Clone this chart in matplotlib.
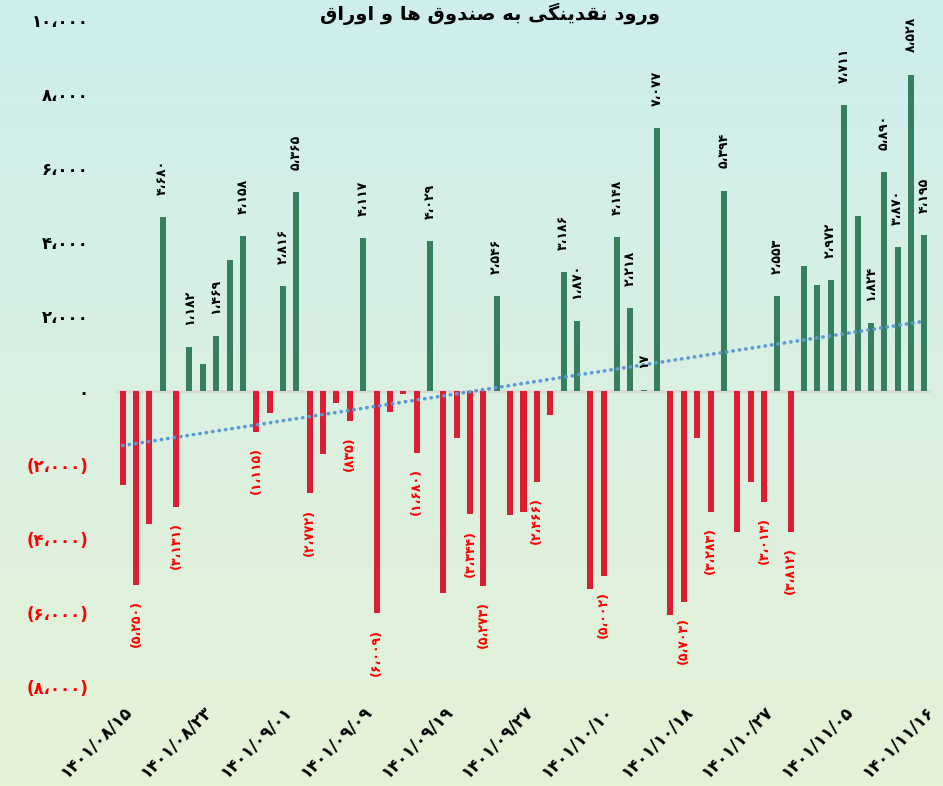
import numpy as np
import matplotlib
matplotlib.use("Agg")
import matplotlib.pyplot as plt
from matplotlib.colors import LinearSegmentedColormap

plt.rcParams['font.family'] = ['DejaVu Sans']

title = "ورود نقدینگی به صندوق ها و اوراق"

dates = ["۱۴۰۱/۰۸/۱۵", "۱۴۰۱/۰۸/۲۳", "۱۴۰۱/۰۹/۰۱", "۱۴۰۱/۰۹/۰۹", "۱۴۰۱/۰۹/۱۹",
         "۱۴۰۱/۰۹/۲۷", "۱۴۰۱/۱۰/۱۰", "۱۴۰۱/۱۰/۱۸", "۱۴۰۱/۱۰/۲۷", "۱۴۰۱/۱۱/۰۵",
         "۱۴۰۱/۱۱/۱۶"]

# net inflow per trading day (million)
values = [-2540, -5250, -3600, 4680, -3131, 1182, 720, 1469, 3510, 4158,
          -1115, -615, 2816, 5365, -2772, -1725, -345, -835, 4117, -6009,
          -585, -90, -1680, 4029, -5460, -1290, -3344, -5273, 2546, -3370,
          -3270, -2466, -670, 3186, 1870, -5350, -5002, 4148, 2218, 17,
          7077, -6050, -5703, -1290, -3283, 5394, -3810, -2460, -3013, 2553,
          -3812, 3370, 2845, 2972, 7711, 4700, 1824, 5890, 3870, 8528, 4195]

# bars that carry a data label
labeled = [1, 3, 4, 5, 7, 9, 10, 12, 13, 14, 17, 18, 19, 22, 23, 26, 27, 28, 31,
           33, 34, 36, 37, 38, 39, 40, 42, 44, 45, 48, 49, 50, 53, 54, 56, 57,
           58, 59, 60]

yticks = [10000, 8000, 6000, 4000, 2000, 0, -2000, -4000, -6000, -8000]

# --- tiny arabic shaper (matplotlib has no complex text layout) ---
FORMS = {
    'و': ('\uFEED', '\uFEEE', None, None),
    'ر': ('\uFEAD', '\uFEAE', None, None),
    'د': ('\uFEA9', '\uFEAA', None, None),
    'ا': ('\uFE8D', '\uFE8E', None, None),
    'ن': ('\uFEE5', '\uFEE6', '\uFEE7', '\uFEE8'),
    'ق': ('\uFED5', '\uFED6', '\uFED7', '\uFED8'),
    'ی': ('\uFBFC', '\uFBFD', '\uFBFE', '\uFBFF'),
    'گ': ('\uFB92', '\uFB93', '\uFB94', '\uFB95'),
    'ب': ('\uFE8F', '\uFE90', '\uFE91', '\uFE92'),
    'ه': ('\uFEE9', '\uFEEA', '\uFEEB', '\uFEEC'),
    'ص': ('\uFEB9', '\uFEBA', '\uFEBB', '\uFEBC'),
}


def shape(s):
    out = []
    for i, c in enumerate(s):
        if c not in FORMS:
            out.append(c)
            continue
        prev = s[i - 1] if i > 0 else None
        nxt = s[i + 1] if i < len(s) - 1 else None
        jp = prev in FORMS and FORMS[prev][2] is not None
        jn = FORMS[c][2] is not None and nxt in FORMS
        iso, fin, ini, med = FORMS[c]
        if jp and jn:
            out.append(med)
        elif jp:
            out.append(fin)
        elif jn:
            out.append(ini)
        else:
            out.append(iso)
    return ''.join(out[::-1])


FA = str.maketrans('0123456789,', '۰۱۲۳۴۵۶۷۸۹،')


def fa_num(v):
    s = f"{abs(v):,}".translate(FA)
    return f"({s})" if v < 0 else s


W, H = 943, 786
fig = plt.figure(figsize=(W / 100, H / 100), dpi=100)

# background gradient
bg = fig.add_axes([0, 0, 1, 1], zorder=-10)
cmap = LinearSegmentedColormap.from_list('bg', ['#cdeeed', '#e6f2d6'])
bg.imshow(np.linspace(0, 1, 256).reshape(-1, 1), aspect='auto', cmap=cmap,
          extent=[0, 1, 0, 1])
bg.set_axis_off()

left, right, top, bottom = 116, 931, 20, 687
ax = fig.add_axes([left / W, 1 - bottom / H, (right - left) / W, (bottom - top) / H])
ax.patch.set_alpha(0)

x = np.arange(len(values))
vals = np.array(values)
colors = ['#357f5f' if v >= 0 else '#dc1e32' for v in vals]
ax.bar(x, vals, width=0.45, color=colors, zorder=2)
ax.axhline(0, color='#d9d9d9', lw=2, zorder=1)

# linear trend
k, b = np.polyfit(x, vals, 1)
ax.plot(x, k * x + b, color='#5b9bd5', lw=2.6, ls=(0, (0.1, 1.7)),
        dash_capstyle='round', zorder=3)

for i in labeled:
    v = values[i]
    if v >= 0:
        ax.annotate(fa_num(v), (i, v), xytext=(0, 16), textcoords='offset points',
                    rotation=90, ha='center', va='bottom', fontsize=9,
                    fontweight='bold', color='black')
    else:
        ax.annotate(fa_num(v), (i, v), xytext=(0, -11), textcoords='offset points',
                    rotation=90, ha='center', va='top', fontsize=9,
                    fontweight='bold', color='#ff0000')

ax.set_xlim(-0.5, len(values) - 0.5)
ax.set_ylim(-8000, 10000)
ax.set_yticks(yticks)
ax.set_yticklabels([fa_num(t) for t in yticks], fontsize=12, fontweight='bold')
for lab, t in zip(ax.get_yticklabels(), yticks):
    lab.set_color('#ff0000' if t < 0 else 'black')
ax.tick_params(axis='y', length=0, pad=20)

ax.set_xticks(x[::6])
ax.set_xticklabels(dates, rotation=45, ha='right', va='top',
                   rotation_mode='anchor', fontsize=12, fontweight='bold')
ax.tick_params(axis='x', length=0, pad=11)
for s in ax.spines.values():
    s.set_visible(False)

fig.text(490 / W, 1 - 14 / H, shape(title), ha='center', va='center',
         fontsize=14, fontweight='bold')

fig.savefig('out.png', dpi=100)
